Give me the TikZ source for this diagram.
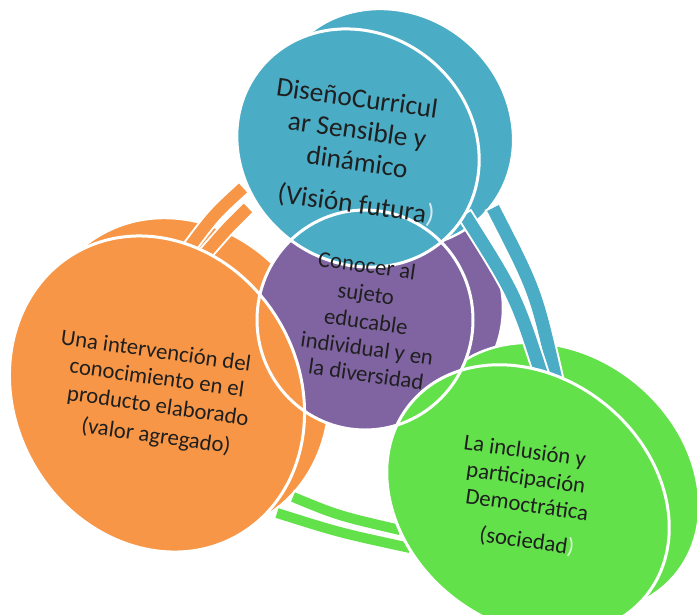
\documentclass[tikz,border=0pt]{standalone}
\usepackage{fontspec}
\setmainfont{Carlito}
\definecolor{cblue}{HTML}{4BACC6}
\definecolor{corange}{HTML}{F79646}
\definecolor{cpurple}{HTML}{8064A2}
\definecolor{cgreen}{HTML}{62E14A}
\begin{document}
\begin{tikzpicture}[x=1pt,y=-1pt,
  bshape/.style={x radius=126pt, y radius=114pt, rotate=-40},
  oshape/.style={x radius=163pt, y radius=142pt, rotate=-60},
  gshape/.style={x radius=152pt, y radius=123pt, rotate=-39},
  pshape/.style={x radius=108pt, y radius=110pt},
  backline/.style={draw=white, line width=2.5pt},
  frontline/.style={draw=white, line width=3pt},
  bandborder/.style={draw=white, line width=#1, line cap=butt, shorten <=-2pt, shorten >=-2pt},
  bandfill/.style={line width=#1, line cap=butt},
  lbl/.style={anchor=base, rotate=-8, text=black!88, inner sep=0pt},
  lblbig/.style={lbl, font=\fontsize{27.3pt}{32pt}\selectfont},
  lblmid/.style={lbl, font=\fontsize{22.7pt}{27pt}\selectfont},
]
\fill[white] (0,0) rectangle (697,614);
\useasboundingbox (0,0) rectangle (697,614);

% centres
\coordinate (bF) at (358,148); \coordinate (bB) at (392,128);
\coordinate (oF) at (157,394); \coordinate (oB) at (182,376);
\coordinate (gF) at (528,500); \coordinate (gB) at (558,478);
\coordinate (pF) at (365,320); \coordinate (pB) at (395,308);

% band end points
\coordinate (bo1) at (493,208); \coordinate (boc) at (535.8,291.3); \coordinate (bo2) at (556,380);
\coordinate (bi1) at (465,215); \coordinate (bic) at (515.8,295.2); \coordinate (bi2) at (544,382);
\coordinate (go1) at (277,513); \coordinate (goc) at (338.8,532.5); \coordinate (go2) at (410,548);
\coordinate (gi1) at (293,497); \coordinate (gic) at (337.8,515.5); \coordinate (gi2) at (400,530);
\coordinate (oo1) at (243,188); \coordinate (ooc) at (213.8,214.7); \coordinate (oo2) at (186,252);
\coordinate (oi1) at (248,208); \coordinate (oic) at (228.5,227); \coordinate (oi2) at (205,254);

% back shadows
\path[fill=cpurple, backline] (pB) circle [pshape];
\path[fill=cblue, backline] (bB) circle [bshape];
\path[fill=corange, backline] (oB) circle [oshape];
\path[fill=cgreen, backline] (gB) circle [gshape];

% bands
\draw[bandborder=17pt] (bo1) .. controls (boc) .. (bo2);
\draw[bandfill=13pt, cblue] (bo1) .. controls (boc) .. (bo2);
\draw[bandborder=17pt] (bi1) .. controls (bic) .. (bi2);
\draw[bandfill=13pt, cblue] (bi1) .. controls (bic) .. (bi2);
\draw[bandborder=14pt] (go1) .. controls (goc) .. (go2);
\draw[bandfill=10pt, cgreen] (go1) .. controls (goc) .. (go2);
\draw[bandborder=14pt] (gi1) .. controls (gic) .. (gi2);
\draw[bandfill=10pt, cgreen] (gi1) .. controls (gic) .. (gi2);
\draw[bandborder=16pt] (oo1) .. controls (ooc) .. (oo2);
\draw[bandfill=12pt, corange] (oo1) .. controls (ooc) .. (oo2);
\draw[bandborder=16pt] (oi1) .. controls (oic) .. (oi2);
\draw[bandfill=12pt, corange] (oi1) .. controls (oic) .. (oi2);

% fronts
\fill[cpurple] (pF) circle [pshape];
\fill[cblue] (bF) circle [bshape];
\fill[corange] (oF) circle [oshape];
\fill[cgreen] (gF) circle [gshape];
\path[frontline] (pF) circle [pshape];
\path[frontline] (bF) circle [bshape];
\path[frontline] (oF) circle [oshape];
\path[frontline] (gF) circle [gshape];

% labels: blue
\node[lblbig] (b1) at (356,107) {DiseñoCurricul};
\node[lblbig] (b2) at (356,139) {ar Sensible y};
\node[lblbig] (b3) at (356,171) {dinámico};
\node[lblbig] (b4) at (355,213) {(Visión futura\textcolor{white!75!cblue}{)}};
% orange
\node[lblmid] (o1) at (155,358) {Una intervención del};
\node[lblmid] (o2) at (156,385) {conocimiento en el};
\node[lblmid] (o3) at (157,413) {producto elaborado};
\node[lblmid] (o4) at (155,443) {(valor agregado)};
% purple
\node[lblmid] (p1) at (366,273) {Conocer al};
\node[lblmid] (p2) at (365,301) {sujeto};
\node[lblmid] (p3) at (365,329) {educable};
\node[lblmid] (p4) at (366,356) {individual y en};
\node[lblmid] (p5) at (365,382) {la diversidad};
% green
\node[lblmid] (g1) at (524,458) {La inclusión y};
\node[lblmid] (g2) at (525,485) {participación};
\node[lblmid] (g3) at (526,512) {Democtrática};
\node[lblmid] (g4) at (526,548) {(sociedad\textcolor{white!75!cgreen}{)}};
\end{tikzpicture}
\end{document}
